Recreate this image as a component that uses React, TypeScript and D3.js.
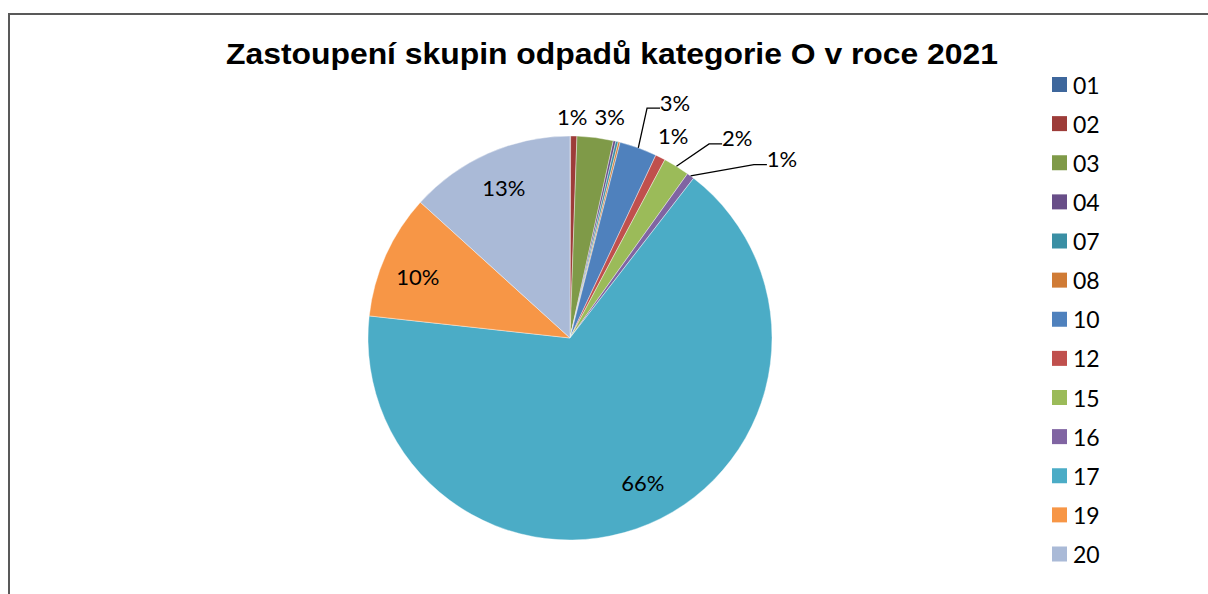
import React from "react";
import * as d3 from "d3";

const categories = ["01", "02", "03", "04", "07", "08", "10", "12", "15", "16", "17", "19", "20"];
const shares = [0.05, 0.5, 2.9, 0.2, 0.2, 0.15, 3.0, 0.8, 2.1, 0.6, 66.4, 10.0, 13.3];
const colors = ["#3E679C", "#9D3C39", "#7F9A48", "#684E88", "#3A8FA4", "#D07B35", "#4F81BD", "#C0504D", "#9BBB59", "#8064A2", "#4BACC6", "#F79646", "#AABAD7"];
const percentLabels = ["", "1%", "3%", "", "", "", "3%", "1%", "2%", "1%", "66%", "10%", "13%"];

type Layout = { r: number; dx: number; dy: number };
const labelLayout: Record<string, Layout> = {
  "02": { r: 222, dx: -2, dy: 0 },
  "03": { r: 222, dx: 12, dy: -1 },
  "10": { r: 222, dx: 30, dy: -27 },
  "12": { r: 226, dx: 2, dy: 0 },
  "15": { r: 226, dx: 48, dy: -8 },
  "16": { r: 226, dx: 77, dy: 2 },
  "17": { r: 0.81, dx: 9, dy: -6 },
  "19": { r: 0.81, dx: -3, dy: 6 },
  "20": { r: 0.81, dx: 0, dy: -1 },
};
const leaderKeys = ["10", "15", "16"];

export default function App() {
  const W = 1208, H = 594;
  const cx = 570, cy = 338, R = 202;
  const pie = d3.pie<number>().sort(null).value((d) => d).startAngle(0).endAngle(2 * Math.PI);
  const arcs = pie(shares);
  const arcGen = d3.arc<d3.PieArcDatum<number>>().innerRadius(0).outerRadius(R);
  const pt = (a: number, r: number): [number, number] => [Math.sin(a) * r, -Math.cos(a) * r];

  const legendY = d3.scaleLinear().domain([0, categories.length - 1]).range([84.5, 554]);

  return (
    <svg width={W} height={H} style={{ position: "fixed", left: 0, top: 0, background: "#fff" }}>
      <rect x={9} y={14} width={1400} height={800} fill="#fff" stroke="#595959" strokeWidth={2} />
      <text x={612} y={64} textAnchor="middle" textLength={772} lengthAdjust="spacingAndGlyphs" fontFamily="Liberation Sans, Arial, sans-serif" fontWeight="bold" fontSize={30} fill="#000">
        Zastoupení skupin odpadů kategorie O v roce 2021
      </text>
      <g transform={`translate(${cx},${cy})`}>
        {arcs.map((a, i) => (
          <path key={categories[i]} d={arcGen(a) || ""} fill={colors[i]} stroke="#fff" strokeWidth={0.4} />
        ))}
        {arcs.map((a, i) => {
          const key = categories[i];
          const lab = percentLabels[i];
          const lay = labelLayout[key];
          if (!lab || !lay) return null;
          const mid = (a.startAngle + a.endAngle) / 2;
          const rr = lay.r <= 1 ? lay.r * R : lay.r;
          const [bx, by] = pt(mid, rr);
          const x = bx + lay.dx, y = by + lay.dy;
          let leader = null;
          if (leaderKeys.includes(key)) {
            const [sx, sy] = pt(mid, R);
            const tw = lab.length * 15;
            const ex = x - tw / 2;
            const ly = y + 6;
            const elbow = ex - 13;
            leader = (
              <polyline points={`${sx},${sy} ${elbow},${ly} ${ex},${ly}`} fill="none" stroke="#000" strokeWidth={1.3} />
            );
          }
          return (
            <g key={"l" + key}>
              {leader}
              <text x={x} y={y} textAnchor="middle" dominantBaseline="central" fontFamily="Lato, sans-serif" fontSize={22} fill="#000">
                {lab}
              </text>
            </g>
          );
        })}
      </g>
      <g>
        {categories.map((c, i) => (
          <g key={"lg" + c} transform={`translate(1052,${legendY(i)})`}>
            <rect x={0} y={-7.5} width={15} height={15} fill={colors[i]} />
            <text x={21} y={0} dominantBaseline="central" fontFamily="Lato, sans-serif" fontSize={23} fill="#000">
              {c}
            </text>
          </g>
        ))}
      </g>
    </svg>
  );
}
